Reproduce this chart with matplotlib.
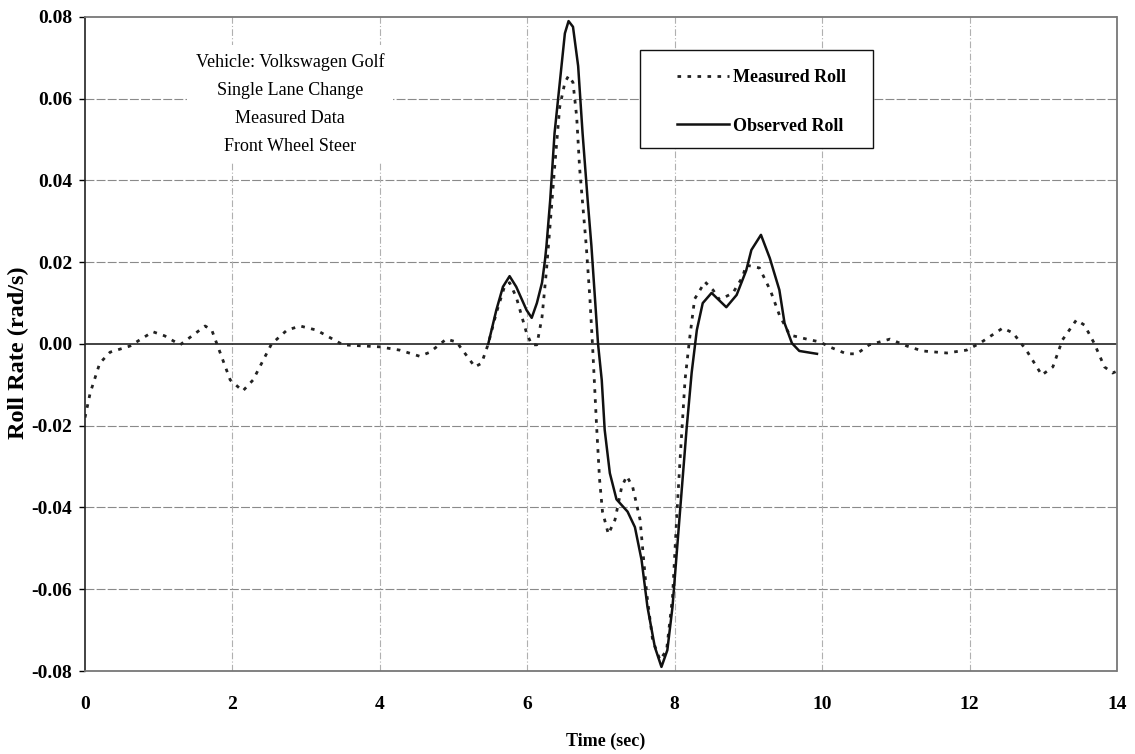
import matplotlib
matplotlib.use("Agg")
import matplotlib.pyplot as plt
from matplotlib.patches import Rectangle

# ---- data ----
meas_t = [0, 0.07, 0.2, 0.34, 0.61, 0.92, 1.08, 1.29, 1.63, 1.72, 1.97, 2.14, 2.28, 2.53,
          2.74, 2.92, 3.14, 3.5, 4.0, 4.27, 4.54, 4.68, 4.9, 5.04, 5.29, 5.38, 5.47, 5.58,
          5.69, 5.76, 5.85, 5.99, 6.06, 6.13, 6.2, 6.26, 6.3, 6.37, 6.44, 6.51, 6.56, 6.62,
          6.67, 6.71, 6.8, 6.85, 6.89, 6.94, 6.98, 7.02, 7.1, 7.19, 7.28, 7.35, 7.43, 7.53,
          7.62, 7.7, 7.8, 7.89, 7.97, 8.03, 8.07, 8.14, 8.2, 8.27, 8.41, 8.52, 8.61, 8.79,
          8.92, 8.97, 9.15, 9.3, 9.42, 9.56, 9.79, 9.97, 10.1, 10.33, 10.47, 10.64, 10.92,
          11.15, 11.36, 11.69, 11.96, 12.14, 12.45, 12.59, 12.77, 12.98, 13.13, 13.26, 13.45,
          13.56, 13.69, 13.83, 13.94, 14.03]
meas_v = [-0.018, -0.012, -0.0047, -0.002, -0.0005, 0.003, 0.002, -0.0002, 0.0044, 0.0034,
          -0.0088, -0.0115, -0.0088, 0.0, 0.0034, 0.0044, 0.0034, -0.0002, -0.0007, -0.0015,
          -0.003, -0.002, 0.0012, 0.0005, -0.0056, -0.0047, 0.0, 0.0076, 0.014, 0.015, 0.0115,
          0.0027, -0.0002, -0.0002, 0.0066, 0.018, 0.027, 0.043, 0.058, 0.064, 0.0656, 0.064,
          0.0556, 0.043, 0.024, 0.011, -0.002, -0.02, -0.033, -0.041, -0.0465, -0.043, -0.035,
          -0.0323, -0.035, -0.043, -0.061, -0.0724, -0.0773, -0.0749, -0.062, -0.0414, -0.029,
          -0.0088, 0.001, 0.011, 0.0152, 0.0132, 0.0108, 0.0125, 0.0164, 0.0193, 0.0186, 0.013,
          0.0071, 0.0022, 0.0012, 0.0005, -0.0007, -0.0024, -0.0024, -0.0002, 0.0012, -0.0005,
          -0.0017, -0.0022, -0.0015, 0.0002, 0.0039, 0.0027, -0.0015, -0.0076, -0.0056, 0.001,
          0.0059, 0.0046, 0.0002, -0.0056, -0.0071, -0.0064]

obs_t = [5.47, 5.58, 5.67, 5.76, 5.85, 5.99, 6.06, 6.13, 6.2, 6.24, 6.26, 6.31, 6.37, 6.44,
         6.51, 6.56, 6.62, 6.69, 6.75, 6.82, 6.87, 6.96, 7.01, 7.05, 7.12, 7.21, 7.36, 7.46,
         7.55, 7.63, 7.73, 7.82, 7.9, 7.97, 8.07, 8.16, 8.23, 8.3, 8.38, 8.5, 8.7, 8.84, 8.97,
         9.04, 9.17, 9.29, 9.42, 9.49, 9.59, 9.69, 9.86, 9.93]
obs_v = [0.0, 0.0083, 0.014, 0.0166, 0.014, 0.0083, 0.0064, 0.01, 0.015, 0.0205, 0.024, 0.035,
         0.0516, 0.0638, 0.076, 0.079, 0.0776, 0.068, 0.0516, 0.035, 0.024, 0.0, -0.0088,
         -0.021, -0.0316, -0.038, -0.041, -0.0448, -0.0528, -0.0643, -0.0741, -0.079, -0.0749,
         -0.0643, -0.0414, -0.021, -0.007, 0.0034, 0.01, 0.0125, 0.009, 0.012, 0.018, 0.023,
         0.0267, 0.021, 0.0132, 0.0051, 0.0002, -0.0017, -0.0022, -0.0024]

x_ticks = [0, 2, 4, 6, 8, 10, 12, 14]
y_ticks = [-0.08, -0.06, -0.04, -0.02, 0.00, 0.02, 0.04, 0.06, 0.08]
annotation_lines = ["Vehicle: Volkswagen Golf", "Single Lane Change", "Measured Data",
                    "Front Wheel Steer"]
legend_labels = ["Measured Roll", "Observed Roll"]

plt.rcParams['font.family'] = ['Liberation Serif', 'DejaVu Serif']

fig = plt.figure(figsize=(11.35, 7.54), dpi=100)
W, H = 1135, 754
ax = fig.add_axes([85 / W, 1 - 671 / H, (1117 - 85) / W, (671 - 17) / H])

ax.set_xlim(0, 14)
ax.set_ylim(-0.08, 0.08)

# grid
for yv in y_ticks:
    if abs(yv) < 1e-9 or abs(abs(yv) - 0.08) < 1e-9:
        continue
    ax.axhline(yv, color='#8a8a8a', lw=0.8, ls=(0, (8, 2)), zorder=1)
for xv in x_ticks[1:-1]:
    ax.axvline(xv, color='#b0b0b0', lw=0.8, ls=(0, (6, 2, 1, 2)), zorder=1)
ax.axhline(0, color='#222222', lw=1.2, zorder=2)

ax.plot(meas_t, meas_v, color='#222222', lw=2.0, ls=(0, (1.3, 2.3)), zorder=3,
        label=legend_labels[0])
ax.plot(obs_t, obs_v, color='#111111', lw=1.8, ls='-', zorder=3, label=legend_labels[1])

# spines
ax.spines['left'].set_color('#222222')
ax.spines['left'].set_linewidth(1.2)
for s in ['top', 'right', 'bottom']:
    ax.spines[s].set_color('#777777')
    ax.spines[s].set_linewidth(1.3)
    ax.spines[s].set_linestyle((0, (1, 1)))

ax.set_xticks(x_ticks)
ax.set_xticklabels([str(v) for v in x_ticks], fontsize=14, fontweight='bold')
ax.set_yticks(y_ticks)
ax.set_yticklabels(["%.2f" % v for v in y_ticks], fontsize=14, fontweight='bold')
ax.tick_params(axis='x', length=0, pad=18)
ax.tick_params(axis='y', length=4, width=1, direction='out', pad=5)

ax.set_xlabel("Time (sec)", fontsize=13, fontweight='bold', va='center')
ax.xaxis.set_label_coords((606 - 85) / 1032, -(741 - 671) / 654)
ax.set_ylabel("Roll Rate (rad/s)", fontsize=17.5, fontweight='bold', va='center')
ax.yaxis.set_label_coords((18 - 85) / 1032, (671 - 353) / 654)

# annotation
ax.text((290 - 85) / (1117 - 85), (671 - 104) / 654, "\n".join(annotation_lines),
        transform=ax.transAxes, ha='center', va='center', fontsize=13, linespacing=1.85,
        bbox=dict(facecolor='white', edgecolor='none', pad=6), zorder=4)

# legend box
rect = Rectangle((640 / W, 1 - 148 / H), 233 / W, 98 / H, transform=fig.transFigure,
                 facecolor='white', edgecolor='#111111', lw=1.0, zorder=5)
ax.add_patch(rect)
leg = ax.legend(loc='upper left', bbox_to_anchor=(677 / W, 1 - 69 / H),
                bbox_transform=fig.transFigure, frameon=False, borderpad=0, borderaxespad=0,
                handlelength=2.9, handletextpad=0.2, labelspacing=1.75,
                prop={'family': 'Liberation Serif', 'weight': 'bold', 'size': 13})
leg.set_zorder(6)

fig.savefig("out.png", dpi=100, facecolor='white')
